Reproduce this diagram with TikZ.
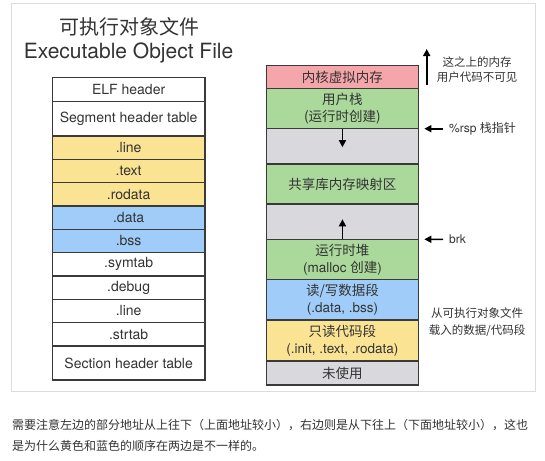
\documentclass[tikz,border=0pt]{standalone}
\usepackage{fontspec}
\setmainfont{TeX Gyre Heros}
\newfontfamily\cjk{Noto Sans CJK SC}
\usetikzlibrary{arrows.meta}
\definecolor{edgec}{HTML}{3A3A3A}
\definecolor{txtc}{HTML}{333333}
\definecolor{framec}{HTML}{DCDCDC}
\definecolor{yel}{HTML}{FAE393}
\definecolor{blu}{HTML}{9FCCF8}
\definecolor{grn}{HTML}{AAD99B}
\definecolor{pnk}{HTML}{F5A6AB}
\definecolor{gry}{HTML}{D9D9DD}
\tikzset{
  lrow/.style={draw=edgec, line width=1.2pt, minimum width=152.7, minimum height=#1,
    anchor=north west, inner sep=0pt, outer sep=0pt, text=txtc, align=center,
    font=\fontsize{14}{17}\selectfont},
  rrow/.style={draw=edgec, line width=1.2pt, minimum width=151.7, minimum height=#1,
    anchor=north west, inner sep=0pt, outer sep=0pt, text=txtc, align=center,
    font=\fontsize{13.5}{17}\selectfont},
  arr/.style={line width=1.6pt, black, -{Triangle[length=7pt,width=7pt]}},
  note/.style={text=txtc, inner sep=0pt, anchor=base, font=\cjk\fontsize{11.5}{14}\selectfont},
  btxt/.style={text=txtc, inner sep=0pt, anchor=base west, font=\cjk\fontsize{12}{14}\selectfont},
}
\begin{document}
\begin{tikzpicture}[x=1pt,y=-1pt]
\fill[white] (0,0) rectangle (545,460);
\useasboundingbox (0,0) rectangle (545,460);
\draw[framec, line width=1pt] (11.5,4) rectangle (535,391.5);

% titles
\node[text=txtc, font=\cjk\fontsize{20}{24}\selectfont] (t1) at (129.5,26.7) {可执行对象文件};
\node[text=txtc, font=\fontsize{21}{25}\selectfont] (t2) at (128.6,53.3) {Executable Object File};

% left column
\node[lrow=24.4] (l1) at (52.3,77.3) {ELF header};
\node[lrow=34.3] (l2) at (52.3,101.7) {Segment header table};
\node[lrow=23.33, fill=yel] (l3) at (52.3,136) {.line};
\node[lrow=23.33, fill=yel] (l4) at (52.3,159.33) {.text};
\node[lrow=23.33, fill=yel] (l5) at (52.3,182.67) {.rodata};
\node[lrow=23.33, fill=blu] (l6) at (52.3,206) {.data};
\node[lrow=23.33, fill=blu] (l7) at (52.3,229.33) {.bss};
\node[lrow=23.33] (l8) at (52.3,252.67) {.symtab};
\node[lrow=23.33] (l9) at (52.3,276) {.debug};
\node[lrow=23.33] (l10) at (52.3,299.33) {.line};
\node[lrow=23.33] (l11) at (52.3,322.67) {.strtab};
\node[lrow=34] (l12) at (52.3,346) {Section header table};

% right column
\node[rrow=23.4, fill=pnk] (r1) at (266.6,65.3) {\cjk 内核虚拟内存};
\node[rrow=40, fill=grn] (r2) at (266.6,88.7) {{\cjk 用户栈}\\{\cjk (运行时创建)}};
\node[rrow=35.3, fill=gry] (r3) at (266.6,128.7) {};
\node[rrow=40, fill=grn] (r4) at (266.6,164) {\cjk 共享库内存映射区};
\node[rrow=35.3, fill=gry] (r5) at (266.6,204) {};
\node[rrow=40, fill=grn] (r6) at (266.6,239.3) {{\cjk 运行时堆}\\(malloc {\cjk 创建})};
\node[rrow=40.7, fill=blu] (r7) at (266.6,279.3) {{\cjk 读/写数据段}\\(.data, .bss)};
\node[rrow=41, fill=yel] (r8) at (266.6,320) {{\cjk 只读代码段}\\(.init, .text, .rodata)};
\node[rrow=24, fill=gry] (r9) at (266.6,361) {\cjk 未使用};

% inner arrows
\draw[arr] (r3.north) -- ++(0,18.5);
\draw[arr] (r5.south) -- ++(0,-20);

% right annotations
\coordinate (kb) at (426.7,85);
\coordinate (kt) at (426.7,49);
\draw[arr] (kb) -- (kt);
\node[note] (n1a) at (477,66) {这之上的内存};
\node[note] (n1b) at (477,81) {用户代码不可见};

\node[anchor=west, inner sep=3pt, text=txtc, font=\fontsize{12}{14}\selectfont] (rsp) at (446,128.7) {\%rsp {\cjk 栈指针}};
\draw[arr, shorten <=3pt] (rsp.west) -- ([xshift=6pt]r2.south east);

\node[anchor=west, inner sep=3pt, text=txtc, font=\fontsize{12}{14}\selectfont] (brk) at (446,239.3) {brk};
\draw[arr, shorten <=3pt] (brk.west) -- ([xshift=6pt]r5.south east);

\node[note] (n2a) at (477,317.8) {从可执行对象文件};
\node[note] (n2b) at (477,334.5) {载入的数据/代码段};

% bottom text
\node[btxt] (bt1) at (12,429.6) {需要注意左边的部分地址从上往下（上面地址较小），右边则是从下往上（下面地址较小），这也};
\node[btxt] (bt2) at (12,450.6) {是为什么黄色和蓝色的顺序在两边是不一样的。};
\end{tikzpicture}
\end{document}
